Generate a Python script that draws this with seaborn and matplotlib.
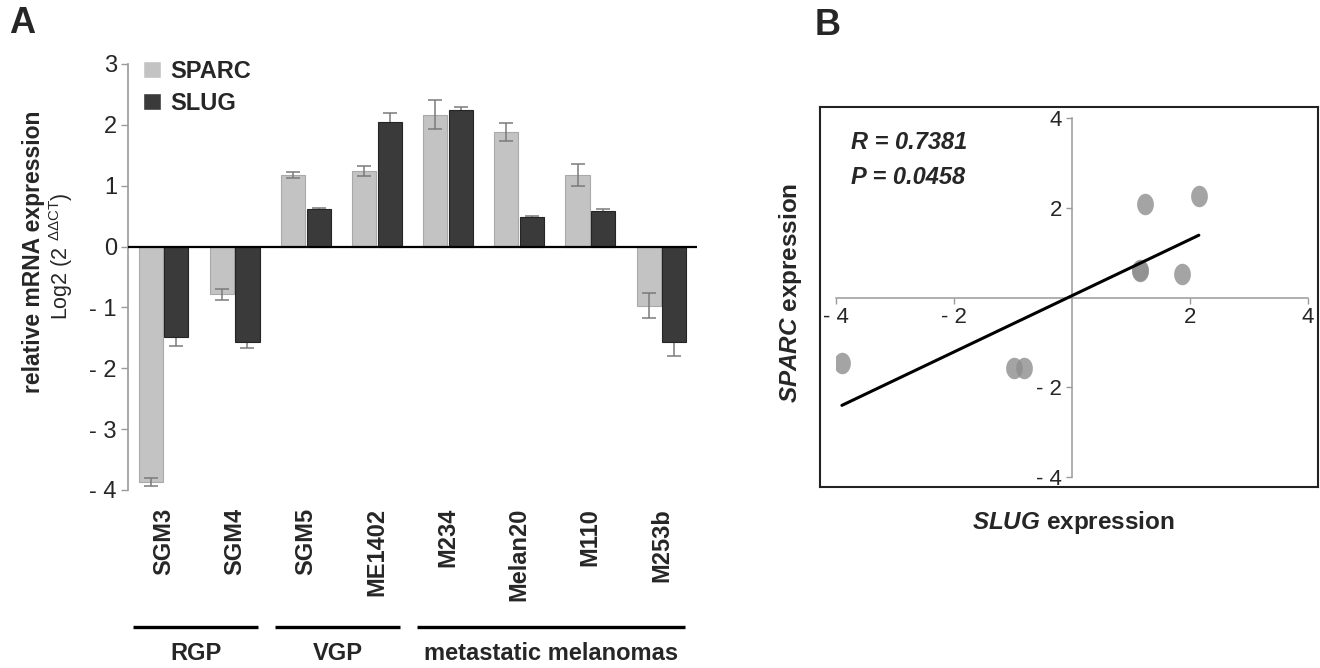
import numpy as np
import pandas as pd
import seaborn as sns
import matplotlib.pyplot as plt
import matplotlib.transforms as mtransforms
from matplotlib.path import Path
from matplotlib.ticker import FuncFormatter

# ---- data ----
cell_lines = ['SGM3', 'SGM4', 'SGM5', 'ME1402', 'M234', 'Melan20', 'M110', 'M253b']
sparc = [-3.87, -0.78, 1.17, 1.24, 2.17, 1.88, 1.17, -0.97]
sparc_err = [0.07, 0.09, 0.05, 0.08, 0.24, 0.15, 0.18, 0.20]
slug = [-1.49, -1.57, 0.61, 2.05, 2.24, 0.49, 0.59, -1.57]
slug_err = [0.15, 0.09, 0.02, 0.14, 0.06, 0.02, 0.02, 0.22]

groups = ['RGP', 'VGP', 'metastatic melanomas']
group_first = [0, 2, 4]
group_last = [1, 3, 7]

# panel B scatter (x = horizontal axis, y = vertical axis)
scat_x = [-3.90, -0.98, -0.82, 1.15, 1.16, 1.23, 1.87, 2.15]
scat_y = [-1.47, -1.56, -1.56, 0.62, 0.60, 2.08, 0.52, 2.26]
r_text = 'R = 0.7381'
p_text = 'P = 0.0458'

sns.set_style('white')
plt.rcParams['font.family'] = ['Liberation Sans', 'DejaVu Sans']
plt.rcParams['mathtext.fontset'] = 'custom'
plt.rcParams['mathtext.rm'] = 'Liberation Sans'
plt.rcParams['mathtext.it'] = 'Liberation Sans:italic:bold'
plt.rcParams['mathtext.bf'] = 'Liberation Sans:bold'


def minus_fmt(v, pos):
    v = int(round(v))
    return f'- {abs(v)}' if v < 0 else str(v)


fig = plt.figure(figsize=(13.2, 6.68), dpi=100)

# ================= panel A =================
ax = fig.add_axes([128 / 1320, 1 - 490 / 668, 569 / 1320, 426 / 668])

df = pd.DataFrame({
    'line': cell_lines * 2,
    'gene': ['SPARC'] * 8 + ['SLUG'] * 8,
    'value': sparc + slug,
})
sns.barplot(data=df, x='line', y='value', hue='gene', order=cell_lines,
            hue_order=['SPARC', 'SLUG'], palette=['#c3c3c3', '#3a3a3a'],
            width=0.72, gap=0.06, errorbar=None, ax=ax, zorder=2)

for bar in ax.containers[0]:
    bar.set_edgecolor('#a9a9a9')
    bar.set_linewidth(0.8)
for bar in ax.containers[1]:
    bar.set_edgecolor('#252525')
    bar.set_linewidth(0.8)

# error bars on the bar centres that seaborn placed
for cont, vals, errs, z in [(ax.containers[0], sparc, sparc_err, 3),
                            (ax.containers[1], slug, slug_err, 1)]:
    xs = [b.get_x() + b.get_width() / 2 for b in cont]
    ax.errorbar(xs, vals, yerr=errs, fmt='none', ecolor='#7a7a7a',
                elinewidth=1.1, capsize=5, capthick=1.1, zorder=z)

ax.set_xlim(-0.5, 7.5)
ax.set_ylim(-4, 3)
ax.set_yticks(range(-4, 4))
ax.yaxis.set_major_formatter(FuncFormatter(minus_fmt))
ax.axhline(0, color='black', lw=1.6, zorder=4)

for s in ['top', 'right', 'bottom']:
    ax.spines[s].set_visible(False)
ax.spines['left'].set_color('#9a9a9a')
ax.spines['left'].set_linewidth(1.2)
ax.tick_params(axis='y', direction='out', length=5, width=1, color='#9a9a9a',
               labelsize=17, pad=3, left=True)
ax.tick_params(axis='x', length=0, pad=13, labelsize=17)
ax.set_xticks(range(8))
ax.set_xticklabels(cell_lines, rotation=90, fontweight='bold', va='top')
ax.set_xlabel('')
ax.set_ylabel('')

handles, labels = ax.get_legend_handles_labels()
ax.legend(handles, labels, loc='upper left', bbox_to_anchor=(143 / 1320, 1 - 60 / 668),
          bbox_transform=fig.transFigure, frameon=False, borderpad=0,
          borderaxespad=0, handlelength=0.75, handleheight=0.75,
          handletextpad=0.4, labelspacing=0.38,
          prop={'size': 17, 'weight': 'bold'})

fig.text(34 / 1320, 1 - 252 / 668, 'relative mRNA expression', rotation=90,
         fontsize=16.5, fontweight='bold', ha='center', va='center')
fig.text(61 / 1320, 1 - 256 / 668, r'Log2 (2 $^{\mathrm{ΔΔCT}}$)', rotation=90,
         fontsize=15.5, ha='center', va='center')

# group brackets under the cell line names
trans = mtransforms.blended_transform_factory(ax.transData, fig.transFigure)
for name, a, b in zip(groups, group_first, group_last):
    ax.plot([a - 0.43, b + 0.33], [1 - 627 / 668] * 2, transform=trans,
            color='black', lw=2.4, clip_on=False, solid_capstyle='butt')
    ax.text((a - 0.43 + b + 0.33) / 2, 1 - 654 / 668, name, transform=trans,
            ha='center', va='center', fontsize=17, fontweight='bold')

fig.text(9 / 1320, 1 - 6 / 668, 'A', fontsize=26, fontweight='bold',
         ha='left', va='top')

# ================= panel B =================
frame = fig.add_axes([820 / 1320, 1 - 487 / 668, 498 / 1320, 380 / 668])
frame.set_xticks([])
frame.set_yticks([])
for s in frame.spines.values():
    s.set_color('#222222')
    s.set_linewidth(1.5)

ax2 = fig.add_axes([836 / 1320, 1 - 477 / 668, 472 / 1320, 359 / 668])
ax2.patch.set_alpha(0)

t = np.linspace(0, 2 * np.pi, 40)
ellipse = Path(np.column_stack([0.78 * np.cos(t), np.sin(t)]))
sns.regplot(x=scat_x, y=scat_y, ax=ax2, ci=None, marker=ellipse,
            scatter_kws=dict(s=240, color='#8e8e8e', linewidths=0, zorder=2),
            line_kws=dict(color='black', lw=2.2, zorder=3))

ax2.set_xlim(-4, 4)
ax2.set_ylim(-4, 4)
ax2.set_xticks([-4, -2, 2, 4])
ax2.set_yticks([-4, -2, 2, 4])
ax2.xaxis.set_major_formatter(FuncFormatter(minus_fmt))
ax2.yaxis.set_major_formatter(FuncFormatter(minus_fmt))
ax2.spines['left'].set_position(('data', 0))
ax2.spines['bottom'].set_position(('data', 0))
for s in ['top', 'right']:
    ax2.spines[s].set_visible(False)
for s in ['left', 'bottom']:
    ax2.spines[s].set_color('#9a9a9a')
    ax2.spines[s].set_linewidth(1.1)
ax2.tick_params(direction='out', length=4, width=1, color='#9a9a9a',
                labelsize=16, pad=3, left=True, bottom=True)
ax2.set_xlabel('')
ax2.set_ylabel('')

ax2.text(-3.75, 3.45, r_text, fontsize=17, fontweight='bold', style='italic',
         ha='left', va='center')
ax2.text(-3.75, 2.68, p_text, fontsize=17, fontweight='bold', style='italic',
         ha='left', va='center')

fig.text(1073 / 1320, 1 - 522 / 668, r'$\mathit{SLUG}$ expression',
         fontsize=17.5, fontweight='bold', ha='center', va='center')
fig.text(790 / 1320, 1 - 293 / 668, r'$\mathit{SPARC}$ expression',
         fontsize=17.5, fontweight='bold', rotation=90, ha='center', va='center')

fig.text(815 / 1320, 1 - 8 / 668, 'B', fontsize=26, fontweight='bold',
         ha='left', va='top')

fig.savefig('out.png', dpi=100)
